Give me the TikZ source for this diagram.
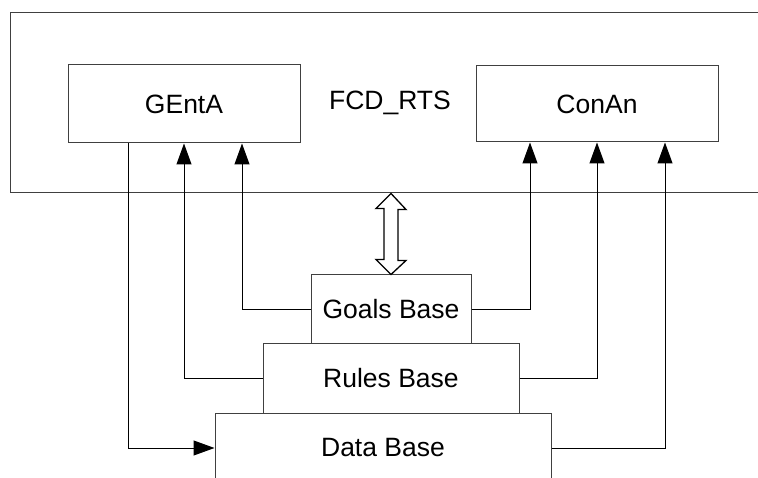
\documentclass[tikz,border=0pt]{standalone}
\usepackage{fontspec}
\setmainfont{Liberation Sans}
\usetikzlibrary{arrows.meta,calc}

\begin{document}
\begin{tikzpicture}[x=1pt,y=-1pt,
  box/.style={draw=black!75, line width=1pt, fill=white, inner sep=0pt,
    font=\fontsize{26.5}{30}\selectfont},
  link/.style={draw=black, line width=1pt},
  arr/.style={link, -{Triangle[length=21pt,width=15pt,fill=black]}},
  hollow/.style={draw=black, line width=1.3pt, fill=white, line join=miter}]
  \useasboundingbox (0,0) rectangle (758,478);
  \clip (0,0) rectangle (758,478);

  % outer system frame (runs off the right edge)
  \node[box, minimum width=760pt, minimum height=180pt] (rts) at (390,103) {FCD\_RTS};

  % components inside the system
  \node[box, minimum width=232pt, minimum height=78pt] (genta) at (184,104) {GEntA};
  \node[box, minimum width=242pt, minimum height=76pt] (conan) at (597,104) {ConAn};

  % stacked knowledge bases
  \node[box, minimum width=336pt, minimum height=70pt] (data)  at (383,448) {Data Base};
  \node[box, minimum width=256pt, minimum height=69pt] (rules) at (391,378.5) {Rules Base};
  \node[box, minimum width=160pt, minimum height=69pt] (goals) at (391,309.5) {Goals Base};

  % hollow two-way arrow between the system and the goals base
  \coordinate (dt) at (goals.north |- rts.south);
  \draw[hollow] (dt) -- ++(15,16) -- ++(-8,0) -- ++(0,51) -- ++(8,0)
    -- (goals.north) -- ++(-15,-15) -- ++(8,0) -- ++(0,-51) -- ++(-8,0) -- cycle;

  % GEntA writes to the data base
  \draw[arr] ($(genta.south)+(-56,0)$) |- (data.west);

  % bases feeding GEntA
  \draw[arr] (goals.west) -| ($(genta.south)+(58,0)$);
  \draw[arr] (rules.west) -| (genta.south);

  % bases feeding ConAn
  \draw[arr] (goals.east) -| ($(conan.south)+(-67,0)$);
  \draw[arr] (rules.east) -| (conan.south);
  \draw[arr] (data.east)  -| ($(conan.south)+(68,0)$);
\end{tikzpicture}
\end{document}
